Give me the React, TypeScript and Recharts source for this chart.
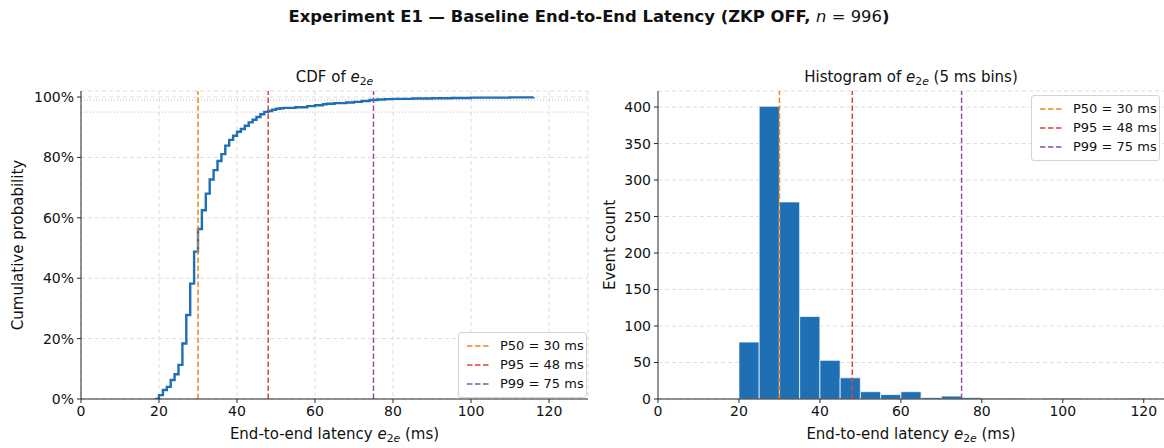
import React from 'react';
import {
  ComposedChart, Line, Bar, XAxis, YAxis, CartesianGrid, ReferenceLine,
} from 'recharts';

// CDF of end-to-end latency (ms -> cumulative fraction)
const cdfMs = [
  19, 20, 21, 22, 23, 24, 25, 26, 27, 28, 29, 30, 31, 32, 33, 34, 35, 36, 37, 38, 39,
  40, 41, 42, 43, 44, 45, 46, 47, 48, 49, 50, 51, 52, 55, 58, 60, 62, 63, 65, 68, 70,
  72, 74, 76, 78, 80, 85, 90, 95, 100, 110, 116,
];
const cdfValues = [
  0, 0.013, 0.03, 0.04, 0.063, 0.082, 0.113, 0.184, 0.278, 0.382, 0.488, 0.563, 0.625,
  0.68, 0.727, 0.758, 0.788, 0.811, 0.839, 0.858, 0.872, 0.885, 0.894, 0.905, 0.916,
  0.925, 0.934, 0.943, 0.951, 0.954, 0.958, 0.961, 0.963, 0.964, 0.966, 0.97, 0.973,
  0.976, 0.978, 0.98, 0.982, 0.984, 0.987, 0.99, 0.992, 0.993, 0.994, 0.995, 0.996,
  0.997, 0.998, 0.999, 1.0,
];

// histogram, 5 ms bins starting at 20 ms
const binStarts = [20, 25, 30, 35, 40, 45, 50, 55, 60, 65, 70, 75, 80, 85, 90, 95, 100, 105, 110, 115];
const binCounts = [78, 401, 270, 113, 53, 29, 10, 6, 10, 2, 4, 2, 1, 1, 0, 1, 1, 0, 0, 1];

const percentiles = [
  { label: 'P50 = 30 ms', value: 30, color: '#e8891c' },
  { label: 'P95 = 48 ms', value: 48, color: '#d9463b' },
  { label: 'P99 = 75 ms', value: 75, color: '#8e50a8' },
];
const cdfGuides = [
  { value: 0.95, color: '#e4938e' },
  { value: 0.99, color: '#b894cc' },
];

const xTicks = [0, 20, 40, 60, 80, 100, 120];
const cdfYTicks = [0, 0.2, 0.4, 0.6, 0.8, 1.0];
const countTicks = [0, 50, 100, 150, 200, 250, 300, 350, 400];

const cdfData = cdfMs.map((ms, i) => ({ ms, cdf: cdfValues[i] }));
const histData = binStarts.map((s, i) => ({ mid: s + 2.5, count: binCounts[i] }));

const BLUE = '#1f6fb4';
const AXIS = '#262626';
const GRID = '#dedede';
const FONT = '"DejaVu Sans", sans-serif';
const tick = { fontSize: 14, fill: '#111', fontFamily: FONT };

const E2e = () => (
  <span>
    <i>e</i>
    <sub style={{ fontSize: '0.72em', verticalAlign: '-0.3em' }}>
      2<i>e</i>
    </sub>
  </span>
);

const Legend = ({ left, top }: { left: number; top: number }) => (
  <div
    style={{
      position: 'absolute', left, top, width: 129, padding: '3px 0 4px', boxSizing: 'border-box',
      border: '1px solid #d4d4d4', borderRadius: 3, background: 'rgba(255,255,255,0.85)',
      fontFamily: FONT, fontSize: 13, color: '#111', whiteSpace: 'nowrap',
    }}
  >
    {percentiles.map((p) => (
      <div key={p.label} style={{ display: 'flex', alignItems: 'center', height: 19, paddingLeft: 8 }}>
        <svg width={24} height={6} style={{ marginRight: 9, flexShrink: 0 }}>
          <line x1={0} y1={3} x2={24} y2={3} stroke={p.color} strokeWidth={1.5} strokeDasharray="5.5 2.5" />
        </svg>
        <span>{p.label}</span>
      </div>
    ))}
  </div>
);

const text = (extra: React.CSSProperties): React.CSSProperties => ({
  position: 'absolute', fontFamily: FONT, fontSize: 15, color: '#111', whiteSpace: 'nowrap', ...extra,
});

export default function App() {
  return (
    <div style={{ position: 'absolute', left: 0, top: 0, width: 1164, height: 448, background: '#fff', overflow: 'hidden' }}>
      {/* Suptitle */}
      <div style={text({ left: 0, width: 1178, top: 7, textAlign: 'center', fontWeight: 'bold', fontSize: 16.4 })}>
        Experiment E1 — Baseline End-to-End Latency (ZKP OFF, <i style={{ fontWeight: 'normal' }}>n</i>
        <span style={{ fontWeight: 'normal' }}> = 996</span>)
      </div>

      {/* Left: CDF */}
      <div style={text({ left: 81, width: 507, top: 68, textAlign: 'center' })}>
        CDF of <E2e />
      </div>
      <div style={{ position: 'absolute', left: 0, top: 0 }}>
        <ComposedChart width={600} height={448} data={cdfData} margin={{ top: 91, right: 12, bottom: 19, left: 21 }}>
          <CartesianGrid stroke={GRID} strokeDasharray="4 3" />
          <XAxis
            dataKey="ms" type="number" domain={[0, 130]} ticks={xTicks} allowDataOverflow
            tick={tick} tickSize={4} tickMargin={3} height={30}
            axisLine={{ stroke: AXIS }} tickLine={{ stroke: AXIS }}
          />
          <XAxis xAxisId="top" orientation="top" type="number" domain={[0, 130]} height={0} tick={false} tickLine={false} axisLine={{ stroke: AXIS }} />
          <YAxis
            type="number" domain={[0, 1.02]} ticks={cdfYTicks} allowDataOverflow width={60}
            tickFormatter={(v: number) => `${Math.round(v * 100)}%`}
            tick={tick} tickSize={4} tickMargin={3}
            axisLine={{ stroke: AXIS }} tickLine={{ stroke: AXIS }}
          />
          <YAxis yAxisId="right" orientation="right" type="number" domain={[0, 1.02]} width={0} tick={false} tickLine={false} axisLine={{ stroke: AXIS }} />
          {cdfGuides.map((g) => (
            <ReferenceLine key={g.value} y={g.value} stroke={g.color} strokeOpacity={0.7} strokeDasharray="1 2" strokeWidth={1} />
          ))}
          <Line
            dataKey="cdf" type="stepAfter" stroke={BLUE} strokeWidth={2.4} dot={false}
            isAnimationActive={false}
          />
          {percentiles.map((p) => (
            <ReferenceLine key={p.label} x={p.value} stroke={p.color} strokeDasharray="5.5 2.5" strokeWidth={1.5} />
          ))}
        </ComposedChart>
      </div>
      <Legend left={458} top={332} />
      <div style={text({ left: 81, width: 507, top: 425, textAlign: 'center' })}>
        End-to-end latency <E2e /> (ms)
      </div>
      <div style={text({ left: 18, top: 245, transform: 'translate(-50%, -50%) rotate(-90deg)' })}>
        Cumulative probability
      </div>

      {/* Right: histogram */}
      <div style={text({ left: 658, width: 506, top: 68, textAlign: 'center' })}>
        Histogram of <E2e /> (5 ms bins)
      </div>
      <div style={{ position: 'absolute', left: 600, top: 0 }}>
        <ComposedChart
          width={564} height={448} data={histData} barCategoryGap={0} barGap={0}
          margin={{ top: 91, right: 0, bottom: 19, left: 8 }}
        >
          <CartesianGrid stroke={GRID} strokeDasharray="4 3" vertical={false} />
          <XAxis
            dataKey="mid" type="number" domain={[0, 125]} ticks={xTicks} allowDataOverflow
            tick={tick} tickSize={4} tickMargin={3} height={30}
            axisLine={{ stroke: AXIS }} tickLine={{ stroke: AXIS }}
          />
          <XAxis xAxisId="top" orientation="top" type="number" domain={[0, 125]} height={0} tick={false} tickLine={false} axisLine={{ stroke: AXIS }} />
          <YAxis
            type="number" domain={[0, 422]} ticks={countTicks} allowDataOverflow width={50}
            tick={tick} tickSize={4} tickMargin={3}
            axisLine={{ stroke: AXIS }} tickLine={{ stroke: AXIS }}
          />
          <Bar dataKey="count" fill={BLUE} stroke="#ffffff" strokeWidth={0.7} barSize={20.2} isAnimationActive={false} />
          {percentiles.map((p) => (
            <ReferenceLine key={p.label} x={p.value} stroke={p.color} strokeDasharray="5.5 2.5" strokeWidth={1.5} />
          ))}
        </ComposedChart>
      </div>
      <Legend left={1031} top={95} />
      <div style={text({ left: 658, width: 506, top: 425, textAlign: 'center' })}>
        End-to-end latency <E2e /> (ms)
      </div>
      <div style={text({ left: 610, top: 245, transform: 'translate(-50%, -50%) rotate(-90deg)' })}>
        Event count
      </div>
    </div>
  );
}
